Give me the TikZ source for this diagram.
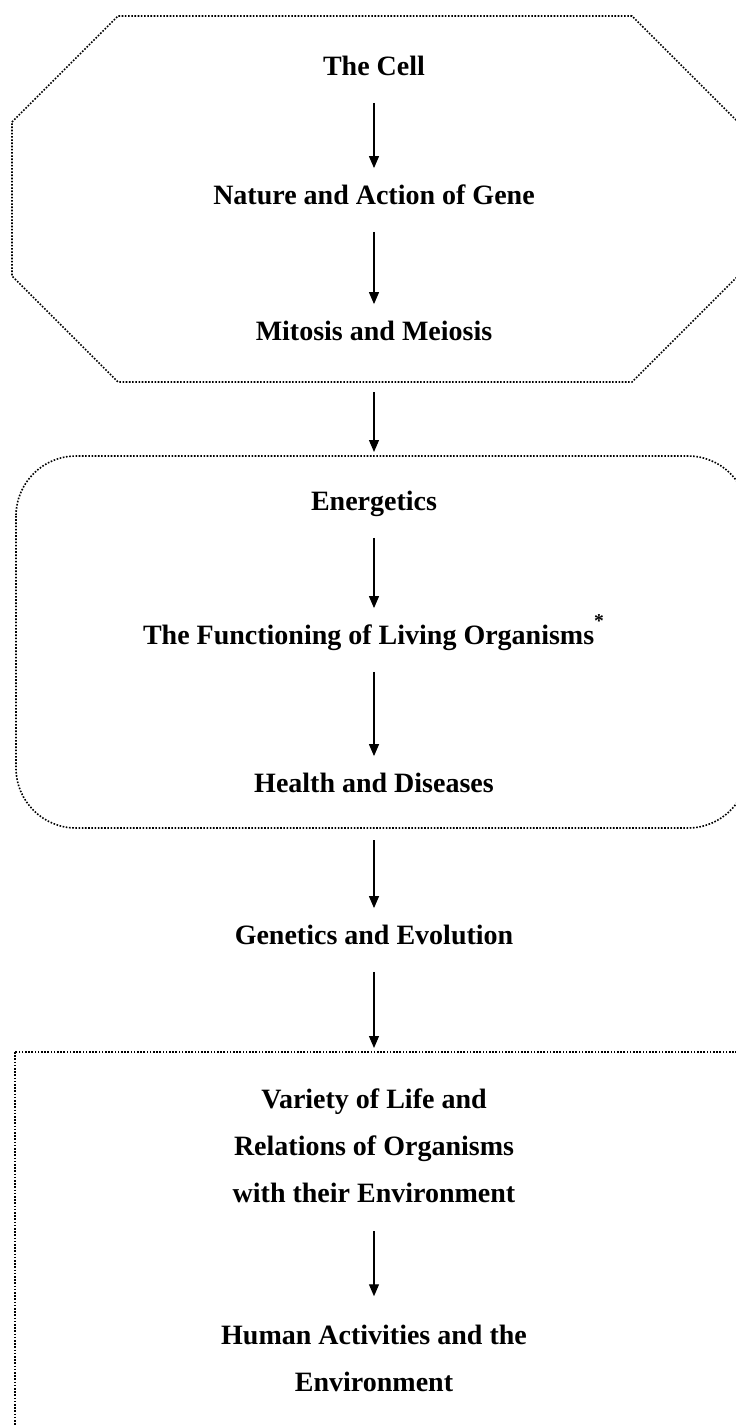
\documentclass[tikz,border=0pt]{standalone}
\usepackage{fontspec}
\setmainfont{Liberation Serif}
\usetikzlibrary{arrows.meta}

\begin{document}
\begin{tikzpicture}[x=0.5pt,y=-0.5pt,>={Triangle[length=6pt,width=5pt]},
  frame/.style={line width=0.8pt, dash pattern=on 0.8pt off 0.8pt},
  topic/.style={font=\fontsize{14}{22.5}\selectfont\bfseries, align=center,
    text height=0.7em, text depth=0.25em, inner ysep=11pt},
  block/.style={font=\fontsize{14}{23.5}\selectfont\bfseries, align=center, inner ysep=14pt},
  link/.style={->, line width=0.6pt}]
\useasboundingbox (0,0) rectangle (735,1425);

% frames
\draw [frame] (12,122) -- (118,16) -- (632,16) -- (738,122) -- (738,276)
  -- (632,382) -- (118,382) -- (12,276) -- cycle;
\draw [frame, rounded corners=30] (16,456) rectangle (748,828);
\draw [frame] (15,1052) rectangle (790,1470);

% topics
\node [topic] (cell) at (374,71) {The Cell};
\node [topic] (gene) at (374,200) {Nature and Action of Gene};
\node [topic] (meiosis) at (374,336) {Mitosis and Meiosis};
\node [topic] (energetics) at (374,506) {Energetics};
\node [topic] (organisms) at (374,640) {The Functioning of Living Organisms\textsuperscript{\raisebox{0.35em}{*}}};
\node [topic] (health) at (374,788) {Health and Diseases};
\node [topic] (genetics) at (374,940) {Genetics and Evolution};
\node [block] (variety) at (374,1146) {Variety of Life and\\Relations of Organisms\\with their Environment};
\node [block] (human) at (374,1358) {Human Activities and the\\Environment};

\coordinate (octout) at (374,392);
\coordinate (roundin) at (374,452);
\coordinate (roundout) at (374,840);
\coordinate (boxin) at (374,1048);

% arrows
\draw [link] (cell) -- (gene);
\draw [link] (gene) -- (meiosis);
\draw [link] (octout) -- (roundin);
\draw [link] (energetics) -- (organisms);
\draw [link] (organisms) -- (health);
\draw [link] (roundout) -- (genetics);
\draw [link] (genetics) -- (boxin);
\draw [link] (variety) -- (human);
\end{tikzpicture}
\end{document}
